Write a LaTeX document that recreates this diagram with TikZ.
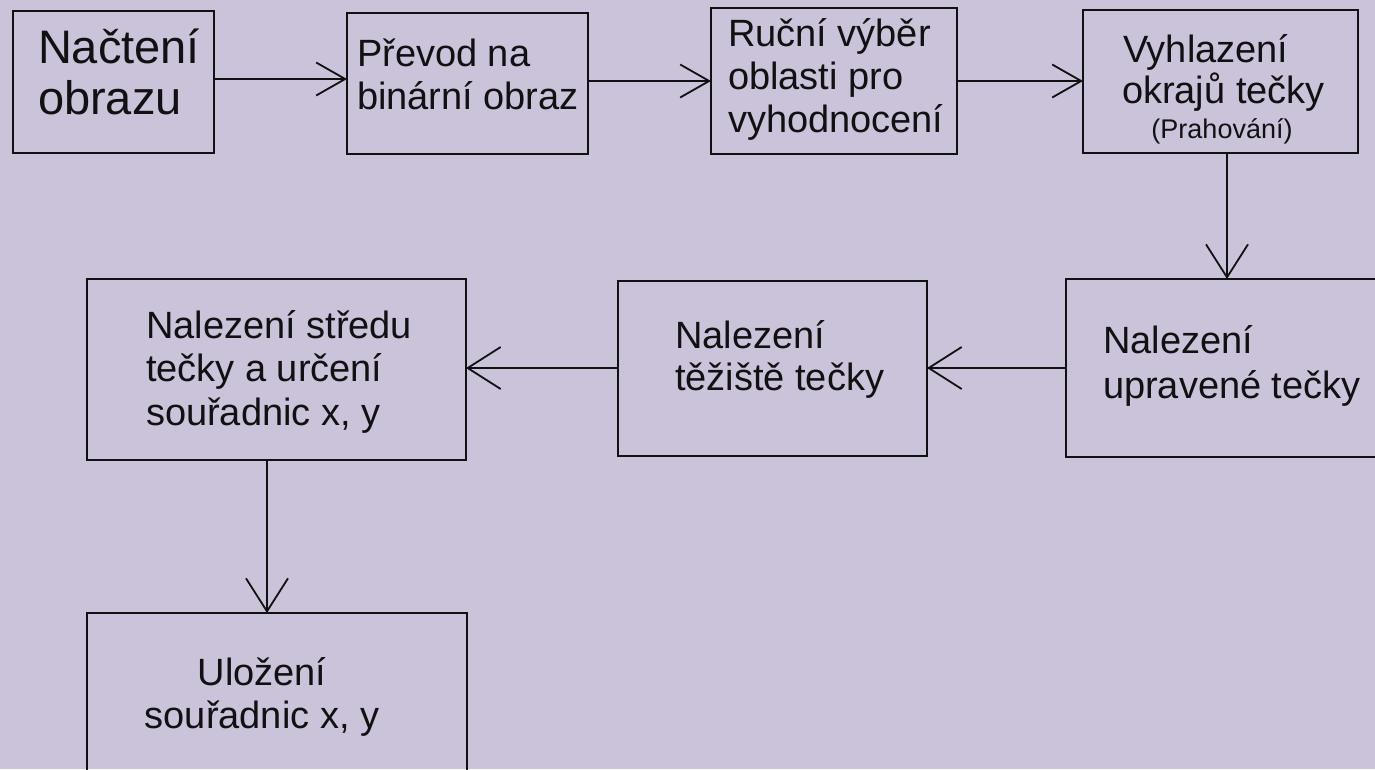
\documentclass[tikz,border=0pt]{standalone}
\usepackage{fontspec}
\setmainfont{Liberation Sans}
\usetikzlibrary{arrows.meta}
\definecolor{bgcol}{RGB}{203,195,218}
\definecolor{ink}{RGB}{17,17,17}
\tikzset{
  box/.style={draw=ink, line width=2pt, inner sep=0pt, outer sep=0pt},
  txt/.style={inner sep=0pt, outer sep=0pt, anchor=base west, text=ink, font=\fontsize{38}{43}\selectfont},
  txtc/.style={txt, anchor=base},
  big/.style={font=\fontsize{47}{51}\selectfont},
  small/.style={font=\fontsize{27}{30}\selectfont},
  arrtop/.style={draw=ink, line width=1.8pt, -{Straight Barb[length=29pt,width=33pt,line width=1.8pt]}},
  arrlow/.style={draw=ink, line width=1.8pt, -{Straight Barb[length=33pt,width=42pt,line width=1.8pt]}}
}
\begin{document}
\begin{tikzpicture}[x=1pt,y=-1pt]
\fill[bgcol] (0,0) rectangle (1375,769);
\useasboundingbox (0,0) rectangle (1375,769);
\clip (0,0) rectangle (1375,769);

% boxes
\node[box, minimum width=201pt, minimum height=142pt] (b1) at (113.5,82) {};
\node[box, minimum width=241pt, minimum height=141pt] (b2) at (467.5,83.5) {};
\node[box, minimum width=246pt, minimum height=146pt] (b3) at (834,81) {};
\node[box, minimum width=275pt, minimum height=143pt] (b4) at (1220.5,81.5) {};
\node[box, minimum width=334pt, minimum height=178pt] (b5) at (1233,368) {};
\node[box, minimum width=309pt, minimum height=175pt] (b6) at (772.5,368) {};
\node[box, minimum width=379pt, minimum height=181pt] (b7) at (276.5,369.5) {};
\node[box, minimum width=380pt, minimum height=187pt] (b8) at (277,706.5) {};

% texts
\node[txt, big] (t1a) at (38,63) {Načtení};
\node[txt, big] (t1b) at (38,114) {obrazu};
\node[txt] (t2a) at (357,66) {Převod na};
\node[txt] (t2b) at (357,109) {binární obraz};
\node[txt] (t3a) at (728,46) {Ruční výběr};
\node[txt] (t3b) at (728,89) {oblasti pro};
\node[txt] (t3c) at (728,132) {vyhodnocení};
\node[txt] (t4a) at (1123,62) {Vyhlazení};
\node[txt] (t4b) at (1122,103) {okrajů tečky};
\node[txtc, small] (t4c) at (1222,138) {(Prahování)};
\node[txt] (t5a) at (1103,353) {Nalezení};
\node[txt] (t5b) at (1103,398) {upravené tečky};
\node[txt] (t6a) at (675,348) {Nalezení};
\node[txt] (t6b) at (675,390) {těžiště tečky};
\node[txt] (t7a) at (146,338) {Nalezení středu};
\node[txt] (t7b) at (146,381) {tečky a určení};
\node[txt] (t7c) at (146,425) {souřadnic x, y};
\node[txtc] (t8a) at (262,685) {Uložení};
\node[txtc] (t8b) at (262,728) {souřadnic x, y};

% connectors
\draw[arrtop] ([yshift=3pt]b1.east) -- ([yshift=3pt]b1.east -| b2.west);
\draw[arrtop] (b2.east |- b3.west) -- (b3.west);
\draw[arrtop] (b3.east) -- (b3.east -| b4.west);
\draw[arrlow] ([xshift=6.5pt]b4.south) -- ([xshift=6.5pt]b4.south |- b5.north);
\draw[arrlow] (b5.west) -- (b5.west -| b6.east);
\draw[arrlow] (b6.west) -- (b6.west -| b7.east);
\draw[arrlow] ([xshift=-9.5pt]b7.south) -- ([xshift=-9.5pt]b7.south |- b8.north);
\end{tikzpicture}
\end{document}
